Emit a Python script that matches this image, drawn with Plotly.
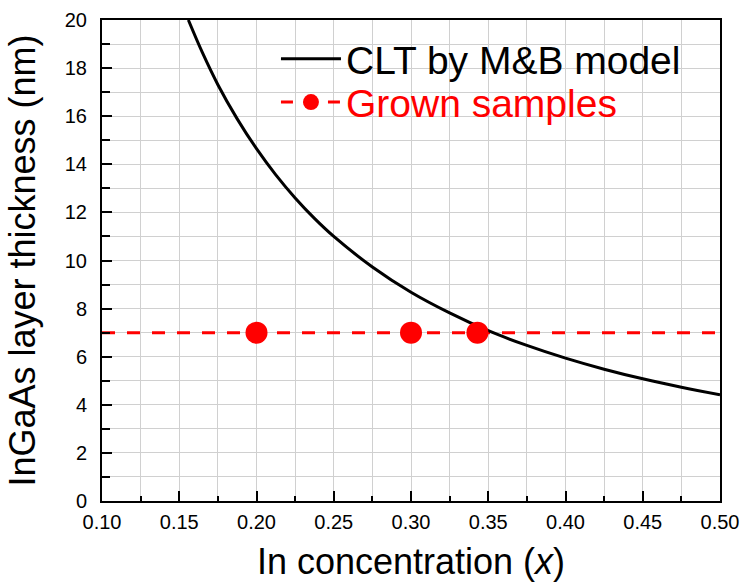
import plotly.graph_objects as go

# CLT by Matthews-Blakeslee model
clt_x = [0.1559, 0.165, 0.175, 0.1875, 0.20, 0.2125, 0.225, 0.2375, 0.25, 0.275,
         0.30, 0.325, 0.35, 0.375, 0.40, 0.425, 0.45, 0.475, 0.50]
clt_y = [20.0, 18.64, 17.31, 15.89, 14.65, 13.56, 12.6, 11.75, 11.0, 9.73,
         8.68, 7.82, 7.08, 6.47, 5.94, 5.48, 5.08, 4.73, 4.42]

# Grown samples
sample_x = [0.20, 0.30, 0.343]
sample_y = [7.0, 7.0, 7.0]

# Reference thickness line
ref_x = [0.10, 0.50]
ref_y = [7.0, 7.0]

x_ticks = [0.10, 0.15, 0.20, 0.25, 0.30, 0.35, 0.40, 0.45, 0.50]
x_ticklabels = ["0.10", "0.15", "0.20", "0.25", "0.30", "0.35", "0.40", "0.45", "0.50"]
y_ticks = [0, 2, 4, 6, 8, 10, 12, 14, 16, 18, 20]

FONT = "Liberation Sans, Arial, sans-serif"
RED = "#ff0000"

# markers only (no connecting segments) while keeping a dashed line in the legend symbol
gx, gy = [], []
for i, (a, b) in enumerate(zip(sample_x, sample_y)):
    if i:
        gx.append(None)
        gy.append(None)
    gx.append(a)
    gy.append(b)

fig = go.Figure()

fig.add_trace(go.Scatter(
    x=ref_x, y=ref_y, mode="lines", showlegend=False, hoverinfo="skip",
    line=dict(color=RED, width=3, dash="13px,12px"),
))
fig.add_trace(go.Scatter(
    x=clt_x, y=clt_y, mode="lines", name="CLT by M&B model", legend="legend",
    line=dict(color="black", width=3, shape="spline", smoothing=1.0),
))
fig.add_trace(go.Scatter(
    x=gx, y=gy, mode="lines+markers", name="Grown samples", legend="legend2",
    connectgaps=False,
    line=dict(color=RED, width=3, dash="12px,35px"),
    marker=dict(color=RED, size=22, line=dict(width=0)),
))

axis_common = dict(
    showline=True, linecolor="black", linewidth=2, mirror=True,
    ticks="inside", tickcolor="black", tickwidth=1.5, ticklen=10,
    showgrid=True, gridcolor="#d0d0d0", gridwidth=1,
    zeroline=False, automargin=False,
    tickfont=dict(family=FONT, size=20, color="black"),
)

fig.update_xaxes(
    range=[0.10, 0.50], tickvals=x_ticks, ticktext=x_ticklabels,
    minor=dict(dtick=0.025, tick0=0.1, ticks="inside", ticklen=5, tickwidth=1.5,
               tickcolor="black", showgrid=True, gridcolor="#d0d0d0", gridwidth=1),
    title=dict(text="In concentration (<i>x</i>)", standoff=17,
               font=dict(family=FONT, size=36, color="black")),
    ticklabelstandoff=2,
    **axis_common,
)
fig.update_yaxes(
    range=[0, 20], tickvals=y_ticks,
    minor=dict(dtick=1, tick0=0, ticks="inside", ticklen=8, tickwidth=1.5,
               tickcolor="black", showgrid=True, gridcolor="#d0d0d0", gridwidth=1),
    title=dict(text="InGaAs layer thickness (nm)", standoff=18,
               font=dict(family=FONT, size=36, color="black")),
    ticklabelstandoff=9,
    **axis_common,
)

legend_common = dict(
    xanchor="left", yanchor="middle",
    bgcolor="rgba(0,0,0,0)", borderwidth=0,
    tracegroupgap=0, itemwidth=60,
)
fig.update_layout(
    width=744, height=584,
    margin=dict(l=102, r=24, t=20, b=83),
    plot_bgcolor="white", paper_bgcolor="white",
    font=dict(family=FONT, color="black"),
    legend=dict(x=0.2815, y=0.919, font=dict(family=FONT, size=39, color="black"),
                **legend_common),
    legend2=dict(x=0.2815, y=0.829, font=dict(family=FONT, size=39, color=RED),
                 **legend_common),
    showlegend=True,
)

fig.write_html(
    "out.html",
    config={"displayModeBar": False},
    post_script="document.body.style.margin='0';document.body.style.padding='0';",
)
